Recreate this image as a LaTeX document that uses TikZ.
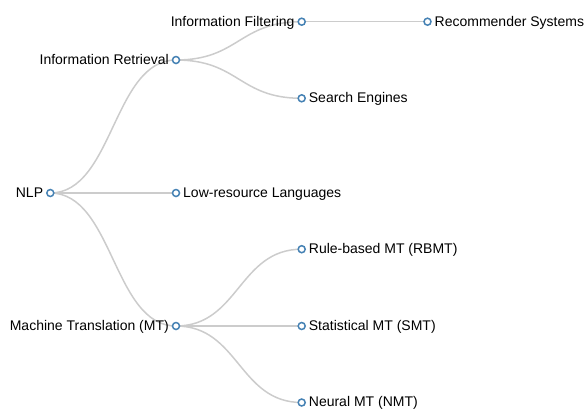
\documentclass[tikz,border=0pt]{standalone}
\usepackage{fontspec}
\setmainfont{Liberation Sans}
\usetikzlibrary{backgrounds}
\definecolor{nodeblue}{HTML}{4682B4}
\definecolor{linkgray}{HTML}{CCCCCC}
\tikzset{
  dot/.style={circle, draw=nodeblue, fill=white, line width=1.5pt, minimum size=7pt, inner sep=0pt},
  lbl/.style={inner sep=0pt, text=black, font=\fontsize{14}{16}\selectfont},
  rlbl/.style={lbl, anchor=base west},
  llbl/.style={lbl, anchor=base east},
  link/.style={draw=linkgray, line width=1.5pt}
}
\begin{document}
\begin{tikzpicture}[x=1pt,y=-1pt]
\useasboundingbox (0,0) rectangle (585,410);
% nodes
\node[dot] (nlp) at (50.3,193) {};
\node[dot] (ir)  at (176,60) {};
\node[dot] (lrl) at (176,193) {};
\node[dot] (mt)  at (176,326) {};
\node[dot] (if)  at (301.7,21.7) {};
\node[dot] (se)  at (301.7,98.3) {};
\node[dot] (rs)  at (427.5,21.7) {};
\node[dot] (rb)  at (301.7,249.2) {};
\node[dot] (smt) at (301.7,326) {};
\node[dot] (nmt) at (301.7,402.5) {};
% labels
\node[llbl] (nlpL) at ([shift={(-7,4.3)}]nlp.center) {NLP};
\node[llbl] (irL)  at ([shift={(-7,4.3)}]ir.center) {Information Retrieval};
\node[llbl] (mtL)  at ([shift={(-7,4.3)}]mt.center) {Machine Translation (MT)};
\node[llbl] (ifL)  at ([shift={(-7,4.3)}]if.center) {Information Filtering};
\node[rlbl] (lrlL) at ([shift={(7,4.3)}]lrl.center) {Low-resource Languages};
\node[rlbl] (seL)  at ([shift={(7,4.3)}]se.center) {Search Engines};
\node[rlbl] (rsL)  at ([shift={(7,4.3)}]rs.center) {Recommender Systems};
\node[rlbl] (rbL)  at ([shift={(7,4.3)}]rb.center) {Rule-based MT (RBMT)};
\node[rlbl] (smtL) at ([shift={(7,4.3)}]smt.center) {Statistical MT (SMT)};
\node[rlbl] (nmtL) at ([shift={(7,4.3)}]nmt.center) {Neural MT (NMT)};
% links
\begin{scope}[on background layer]
\draw[link] (nlp.center) .. controls +(62.9,0) and +(-62.9,0) .. (ir.center);
\draw[link] (nlp.center) .. controls +(62.9,0) and +(-62.9,0) .. (lrl.center);
\draw[link] (nlp.center) .. controls +(62.9,0) and +(-62.9,0) .. (mt.center);
\draw[link] (ir.center) .. controls +(62.9,0) and +(-62.9,0) .. (if.center);
\draw[link] (ir.center) .. controls +(62.9,0) and +(-62.9,0) .. (se.center);
\draw[link] (if.center) .. controls +(62.9,0) and +(-62.9,0) .. (rs.center);
\draw[link] (mt.center) .. controls +(62.9,0) and +(-62.9,0) .. (rb.center);
\draw[link] (mt.center) .. controls +(62.9,0) and +(-62.9,0) .. (smt.center);
\draw[link] (mt.center) .. controls +(62.9,0) and +(-62.9,0) .. (nmt.center);
\end{scope}
\end{tikzpicture}
\end{document}
